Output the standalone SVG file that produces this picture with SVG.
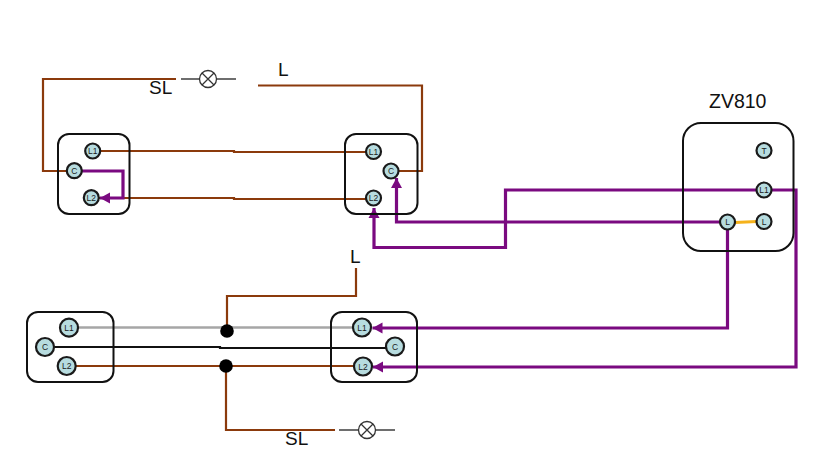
<svg xmlns="http://www.w3.org/2000/svg" width="826" height="475" viewBox="0 0 826 475">
<style>
.box{fill:none;stroke:#111;stroke-width:2}
.w{fill:none;stroke-linejoin:miter}
.br{stroke:#8b3a0c;stroke-width:2.200}
.pu{stroke:#7a0a80;stroke-width:3.200}
.gy{stroke:#a6a6a6;stroke-width:2.400}
.lg{stroke:#6e6e6e;stroke-width:1.800}
.bk{stroke:#111;stroke-width:2.200}
.or{stroke:#f5b21b;stroke-width:3}
.t{fill:#b7dcdf;stroke:#1a1a1a;stroke-width:2.200}
.tl{font-family:"Liberation Sans",Arial,sans-serif;font-size:8.500px;fill:#1a1a1a;text-anchor:middle}
.lb{font-family:"Liberation Sans",Arial,sans-serif;font-size:19px;fill:#111}
.lamp{fill:#fff;stroke:#333;stroke-width:1.300}
</style>
<defs>
<marker id="a" markerUnits="userSpaceOnUse" markerWidth="11" markerHeight="13" refX="10" refY="6.500" orient="auto"><path d="M0 1L10 6.500L0 12Z" fill="#7a0a80"/></marker>
</defs>
<rect width="826" height="475" fill="#fff"/>
<g id="connectors">
<path class="w br" d="M176 79H43V171H67"/>
<path class="w br" d="M258 85.500H422V171H398"/>
<path class="w br" d="M100 151H234V152H366"/>
<path class="w br" d="M98 198H234V199H366"/>
<path class="w pu" d="M82 171H123V198H100" marker-end="url(#a)"/>
<path class="w pu" d="M720 222H396.500V178" marker-end="url(#a)"/>
<path class="w pu" d="M756 190H505.500V247.500H374V208" marker-end="url(#a)"/>
<path class="w pu" d="M772 190H796V367H373" marker-end="url(#a)"/>
<path class="w pu" d="M727.500 230V328H372.500" marker-end="url(#a)"/>
<path class="w or" d="M735 222.500L757 221.500"/>
<path class="w gy" d="M78 327.500H353"/>
<path class="w bk" d="M54 347H220V348H386"/>
<path class="w br" d="M76 366H354"/>
<path class="w br" d="M227 331V296H356V268"/>
<path class="w br" d="M226 366V430H335"/>
<path class="w lg" d="M181 79H236"/>
<path class="w lg" d="M339 430H395"/>
<circle cx="227" cy="331" r="6.800" fill="#000"/>
<circle cx="226" cy="366" r="6.800" fill="#000"/>
</g>
<g id="lamp-top"><circle class="lamp" cx="208" cy="79" r="8.500"/><path class="lamp" d="M202 73L214 85M214 73L202 85"/></g>
<g id="lamp-bottom"><circle class="lamp" cx="367" cy="430" r="8.500"/><path class="lamp" d="M361 424L373 436M373 424L361 436"/></g>
<g id="switch-top-left"><rect class="box" x="58" y="134" width="71.500" height="80" rx="11"/>
<circle class="t" cx="92.700" cy="151" r="7.500"/><text class="tl" x="92.700" y="154">L1</text>
<circle class="t" cx="74.300" cy="170.700" r="7.500"/><text class="tl" x="74.300" y="173.700">C</text>
<circle class="t" cx="91.300" cy="197.700" r="7.500"/><text class="tl" x="91.300" y="200.700">L2</text></g>
<g id="switch-top-right"><rect class="box" x="345" y="134" width="72.500" height="80" rx="11"/>
<circle class="t" cx="373.500" cy="151.500" r="7.500"/><text class="tl" x="373.500" y="154.500">L1</text>
<circle class="t" cx="391" cy="171" r="7.500"/><text class="tl" x="391" y="174">C</text>
<circle class="t" cx="373.500" cy="198" r="7.500"/><text class="tl" x="373.500" y="201">L2</text></g>
<g id="zv810"><rect class="box" x="683" y="123" width="110.500" height="128" rx="18"/>
<circle class="t" cx="764" cy="150.500" r="7.500"/><text class="tl" x="764" y="153.500">T</text>
<circle class="t" cx="764" cy="190" r="7.500"/><text class="tl" x="764" y="193">L1</text>
<circle class="t" cx="764" cy="221.500" r="7.500"/><text class="tl" x="764" y="224.500">L</text>
<circle class="t" cx="727.500" cy="222" r="7.500"/><text class="tl" x="727.500" y="225">L</text></g>
<g id="switch-bottom-left"><rect class="box" x="27" y="312" width="86.500" height="70" rx="11"/>
<circle class="t" cx="69" cy="327.700" r="9"/><text class="tl" x="69" y="330.700">L1</text>
<circle class="t" cx="45" cy="347" r="9"/><text class="tl" x="45" y="350">C</text>
<circle class="t" cx="66.700" cy="366" r="9"/><text class="tl" x="66.700" y="369">L2</text></g>
<g id="switch-bottom-right"><rect class="box" x="331" y="312" width="86" height="70" rx="11"/>
<circle class="t" cx="362" cy="327.500" r="9"/><text class="tl" x="362" y="330.500">L1</text>
<circle class="t" cx="395" cy="346.500" r="9"/><text class="tl" x="395" y="349.500">C</text>
<circle class="t" cx="363" cy="366.500" r="9"/><text class="tl" x="363" y="369.500">L2</text></g>
<g id="labels">
<text class="lb" x="149" y="94">SL</text>
<text class="lb" x="278" y="76">L</text>
<text class="lb" x="350" y="263">L</text>
<text class="lb" x="285" y="445">SL</text>
<text class="lb" x="709" y="107.500" style="font-size:19.500px">ZV810</text>
</g>
</svg>
